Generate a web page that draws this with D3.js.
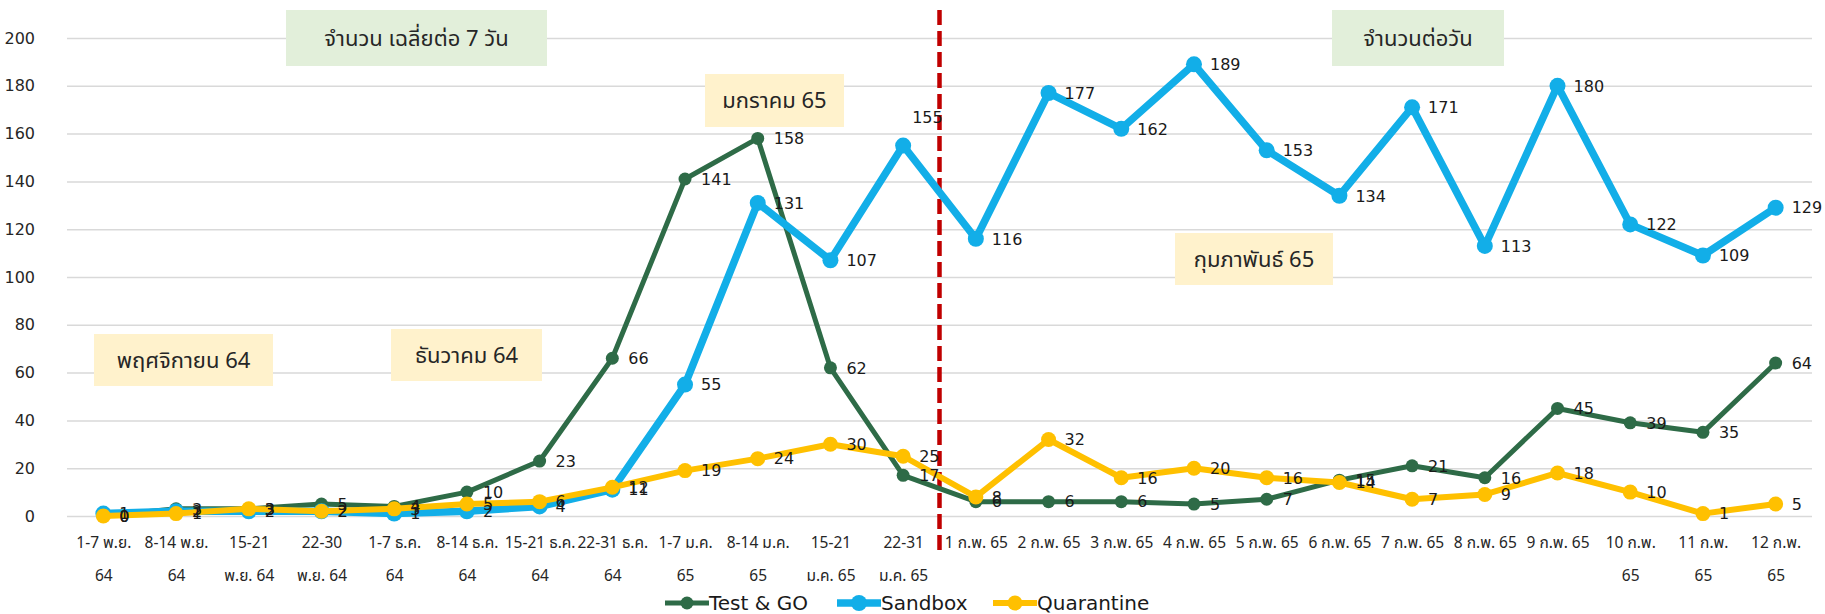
<!DOCTYPE html>
<html><head><meta charset="utf-8">
<script src="https://cdn.jsdelivr.net/npm/d3@7"></script>
<style>body{margin:0;background:#fff} svg{display:block}</style>
</head><body><svg id="c" width="1825" height="614"></svg>
<script>
// ---------- data ----------
const categories = [
  "1-7 พ.ย.\n64", "8-14 พ.ย.\n64", "15-21\nพ.ย. 64", "22-30\nพ.ย. 64",
  "1-7 ธ.ค.\n64", "8-14 ธ.ค.\n64", "15-21 ธ.ค.\n64", "22-31 ธ.ค.\n64",
  "1-7 ม.ค.\n65", "8-14 ม.ค.\n65", "15-21\nม.ค. 65", "22-31\nม.ค. 65",
  "1 ก.พ. 65", "2 ก.พ. 65", "3 ก.พ. 65", "4 ก.พ. 65", "5 ก.พ. 65",
  "6 ก.พ. 65", "7 ก.พ. 65", "8 ก.พ. 65", "9 ก.พ. 65",
  "10 ก.พ.\n65", "11 ก.พ.\n65", "12 ก.พ.\n65"
];
const testGo     = [0, 3, 3, 5, 4, 10, 23, 66, 141, 158, 62, 17, 6, 6, 6, 5, 7, 15, 21, 16, 45, 39, 35, 64];
const sandbox    = [1, 2, 2, 2, 1, 2, 4, 11, 55, 131, 107, 155, 116, 177, 162, 189, 153, 134, 171, 113, 180, 122, 109, 129];
const quarantine = [0, 1, 3, 2, 3, 5, 6, 12, 19, 24, 30, 25, 8, 32, 16, 20, 16, 14, 7, 9, 18, 10, 1, 5];
const seriesNames = ["Test & GO", "Sandbox", "Quarantine"];
const yTicks = [0, 20, 40, 60, 80, 100, 120, 140, 160, 180, 200];
const noteTexts = ["จำนวน เฉลี่ยต่อ 7 วัน", "จำนวนต่อวัน", "มกราคม 65", "กุมภาพันธ์ 65", "พฤศจิกายน 64", "ธันวาคม 64"];

// ---------- layout / style ----------
const W = 1825, H = 614;
const plot = {left: 67, right: 1812, top: 38, bottom: 516};
const thaiFont = "'Noto Sans Thai','Tahoma','Leelawadee UI','DejaVu Sans','Noto Sans',sans-serif";
const numFont = "'DejaVu Sans','Noto Sans',sans-serif";
const styles = [
  {color: "#2e6b47", width: 5,   r: 6.5},
  {color: "#12aee8", width: 7.5, r: 8},
  {color: "#ffc000", width: 6,   r: 7.5}
];
const noteBoxes = [
  {x: 286, y: 10, w: 261, h: 56, fill: "#e2efda"},
  {x: 1332, y: 10, w: 172, h: 56, fill: "#e2efda"},
  {x: 705, y: 74, w: 139, h: 53, fill: "#fff2cc"},
  {x: 1175, y: 233, w: 158, h: 52, fill: "#fff2cc"},
  {x: 94, y: 334, w: 179, h: 52, fill: "#fff2cc"},
  {x: 391, y: 329, w: 151, h: 52, fill: "#fff2cc"}
];

const svg = d3.select("#c");
const x = d3.scalePoint().domain(categories).range([plot.left, plot.right]).padding(0.5);
const y = d3.scaleLinear().domain([0, 200]).range([plot.bottom, plot.top]);

// gridlines + y labels
const yAxis = d3.axisLeft(y).tickValues(yTicks).tickSize(-(plot.right - plot.left)).tickPadding(32);
const gy = svg.append("g").attr("transform", `translate(${plot.left},0)`).call(yAxis);
gy.select(".domain").remove();
gy.selectAll(".tick line").attr("stroke", "#d9d9d9").attr("stroke-width", 1.5);
gy.selectAll(".tick text").attr("font-family", numFont).attr("font-size", 16).attr("fill", "#262626");

// x labels (multi-line)
const xAxis = d3.axisBottom(x).tickSize(0).tickFormat("");
const gx = svg.append("g").attr("transform", `translate(0,${plot.bottom})`).call(xAxis);
gx.select(".domain").remove();
gx.selectAll(".tick").each(function(d) {
  const t = d3.select(this).append("text")
    .attr("font-family", thaiFont).attr("font-size", 15.5).attr("fill", "#262626")
    .attr("text-anchor", "middle");
  d.split("\n").forEach((line, i) => {
    t.append("tspan").attr("x", 0).attr("y", 32 + i * 33).text(line);
  });
});

// annotation boxes
noteBoxes.forEach((b, i) => {
  svg.append("rect").attr("x", b.x).attr("y", b.y).attr("width", b.w).attr("height", b.h).attr("fill", b.fill);
  svg.append("text").attr("x", b.x + b.w / 2).attr("y", b.y + b.h / 2)
    .attr("dy", "0.36em").attr("text-anchor", "middle")
    .attr("font-family", thaiFont).attr("font-size", 22).attr("fill", "#262626")
    .text(noteTexts[i]);
});

// red divider between the weekly and daily parts
const divX = (x(categories[11]) + x(categories[12])) / 2;
svg.append("line").attr("x1", divX).attr("x2", divX).attr("y1", 10).attr("y2", 552)
  .attr("stroke", "#c00000").attr("stroke-width", 4.5).attr("stroke-dasharray", "15,6");

// series
const allSeries = [testGo, sandbox, quarantine];
const line = d3.line().x((d, i) => x(categories[i])).y(d => y(d));
allSeries.forEach((vals, s) => {
  const st = styles[s];
  const g = svg.append("g");
  g.append("path").datum(vals).attr("d", line).attr("fill", "none")
    .attr("stroke", st.color).attr("stroke-width", st.width).attr("stroke-linejoin", "round");
  g.selectAll("circle").data(vals).join("circle")
    .attr("cx", (d, i) => x(categories[i])).attr("cy", d => y(d)).attr("r", st.r).attr("fill", st.color);
});

// data labels (right of points)
const labelShift = {"1-11": {dx: -7, dy: -28}};
allSeries.forEach((vals, s) => {
  svg.append("g").selectAll("text").data(vals).join("text")
    .attr("x", (d, i) => x(categories[i]) + 16 + ((labelShift[s + "-" + i] || {}).dx || 0))
    .attr("y", (d, i) => y(d) + ((labelShift[s + "-" + i] || {}).dy || 0))
    .attr("dy", "0.36em")
    .attr("font-family", numFont).attr("font-size", 16).attr("fill", "#1a1a1a")
    .text(d => d);
});

// legend
const legendX = [665, 837, 993];
const legendY = 603;
seriesNames.forEach((name, s) => {
  const st = styles[s];
  const g = svg.append("g").attr("transform", `translate(${legendX[s]},${legendY})`);
  g.append("line").attr("x1", 0).attr("x2", 44).attr("stroke", st.color).attr("stroke-width", st.width);
  g.append("circle").attr("cx", 22).attr("r", st.r).attr("fill", st.color);
  g.append("text").attr("x", 44).attr("dy", "0.36em")
    .attr("font-family", numFont).attr("font-size", 20).attr("fill", "#1a1a1a").text(name);
});
</script>
</body></html>
